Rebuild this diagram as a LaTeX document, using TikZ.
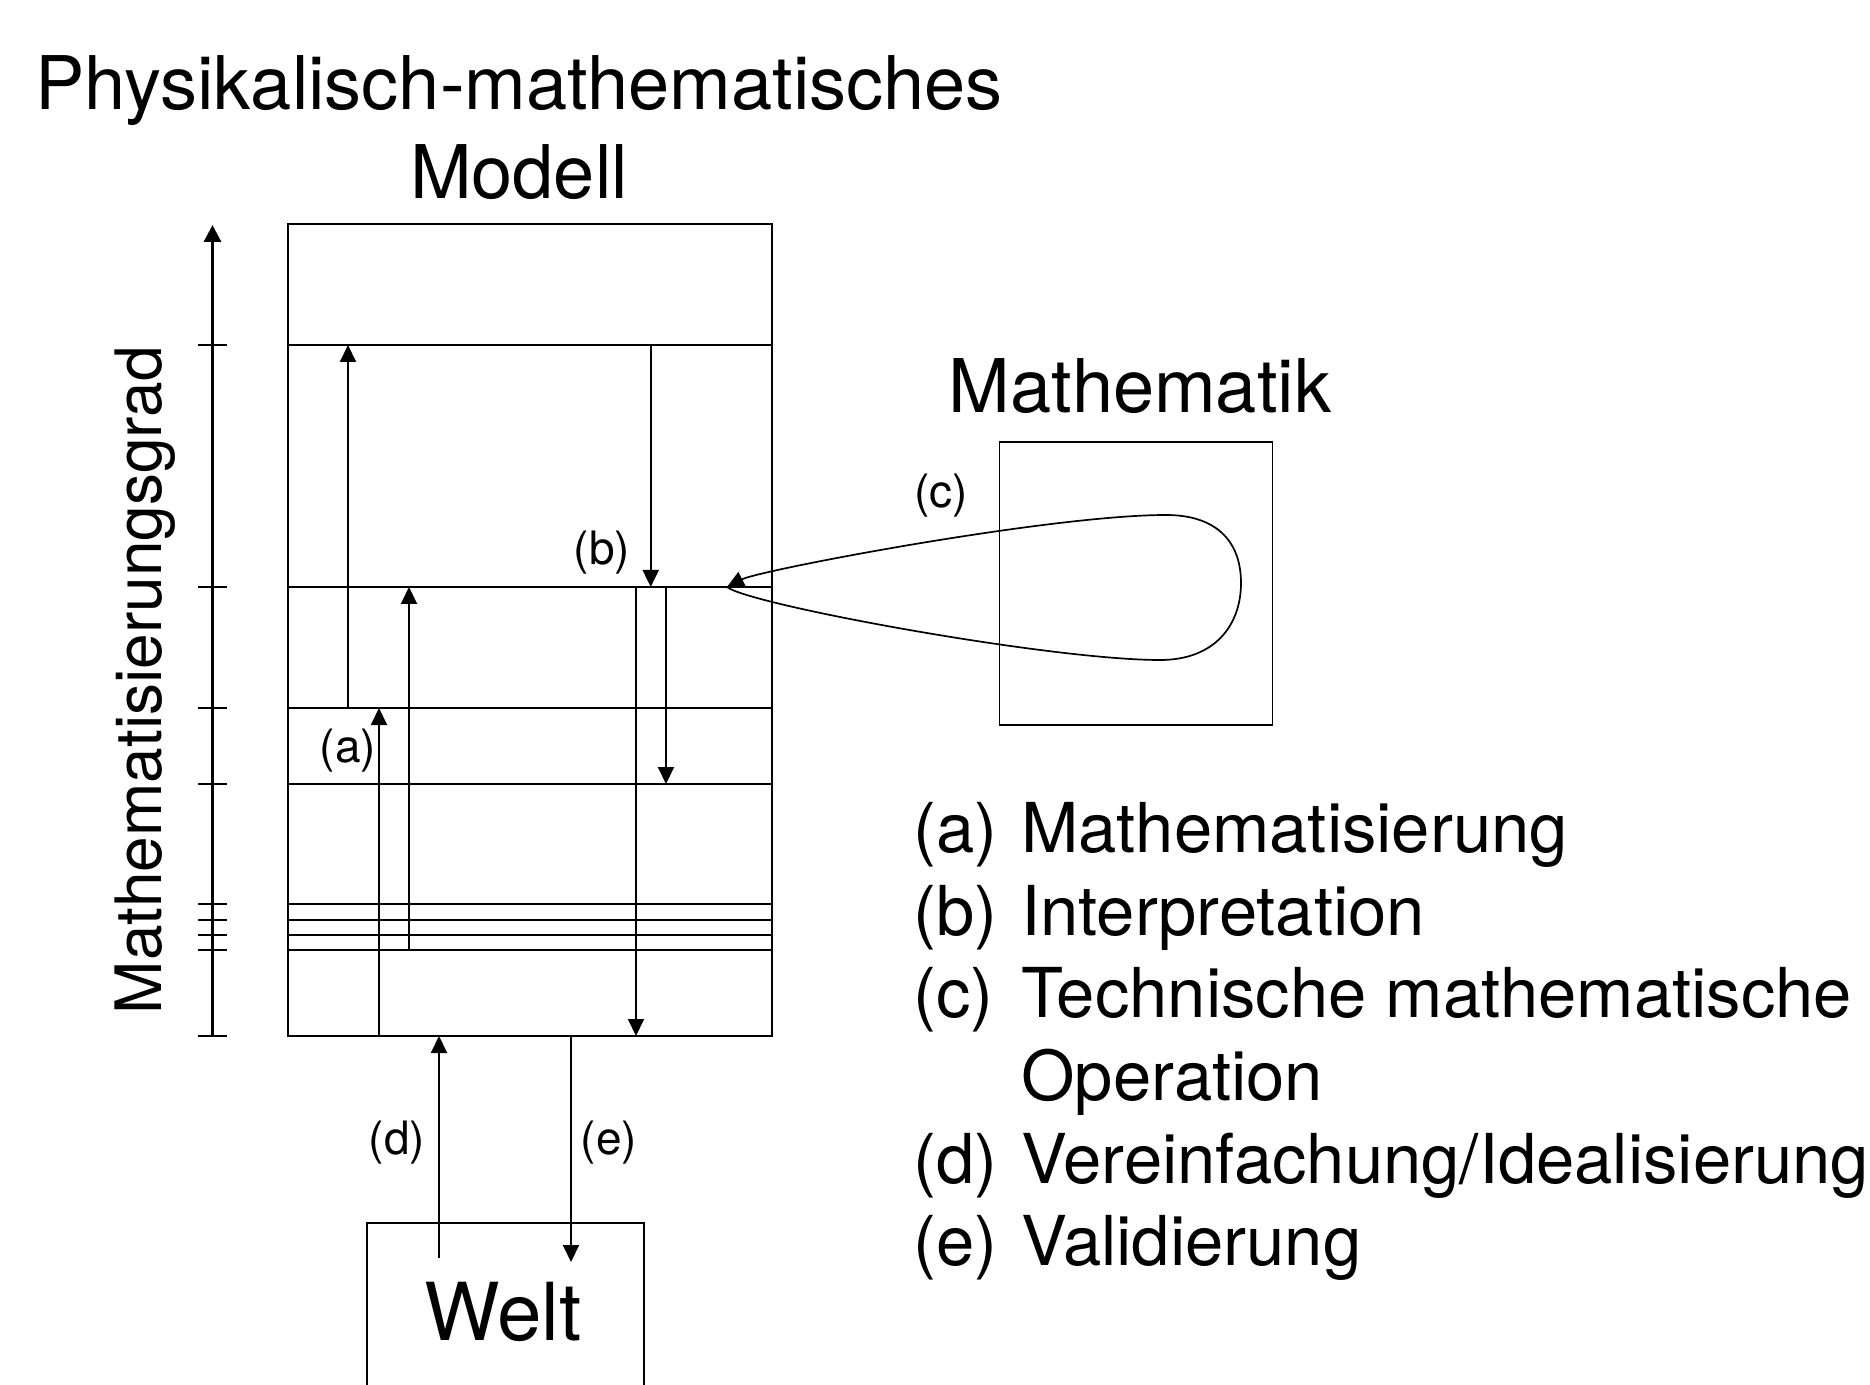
\documentclass[tikz,border=0pt]{standalone}
\usepackage{fontspec}
\setmainfont{TeX Gyre Heros}
\usetikzlibrary{arrows.meta,positioning}

\begin{document}
\begin{tikzpicture}[x=0.5pt, y=-0.5pt]
    \tikzstyle{box} = [rectangle, draw, line width=0.85pt, inner sep=0pt]
    \tikzstyle{level} = [line width=0.85pt]
    \tikzstyle{arrow} = [line width=1pt, -{Triangle[length=8.5pt, width=8pt]}]
    \tikzstyle{axtick} = [line width=1.4pt]
    \tikzstyle{big} = [font=\fontsize{37}{44}\selectfont, anchor=base, inner sep=0pt]
    \tikzstyle{lbl} = [font=\fontsize{23}{28}\selectfont, anchor=base, inner sep=0pt]
    \tikzstyle{legend} = [font=\fontsize{34.4}{41}\selectfont, anchor=base west, inner sep=0pt]

    \useasboundingbox (0,0) rectangle (1870,1385);

    % Titles
    \node [big] (title1) at (519,110) {Physikalisch-mathematisches};
    \node [big] (title2) at (519,199) {Modell};
    \node [big] (mathtitle) at (1140,413) {Mathematik};

    % Boxes
    \node [box, minimum width=242pt, minimum height=406pt] (modell) at (530,630) {};
    \node [box, minimum width=136.5pt, minimum height=141.5pt] (mathe) at (1136,583.5) {};
    \draw [level] (367,1385) |- (644,1223) -- (644,1385);
    \node [big, font=\fontsize{40}{48}\selectfont] (welt) at (503,1340) {Welt};

    % Levels and columns
    \coordinate (l1) at (288,345);
    \coordinate (l2) at (288,587);
    \coordinate (l3) at (288,708);
    \coordinate (l4) at (288,784);
    \coordinate (l8) at (288,950);
    \coordinate (l9) at (288,1036);
    \coordinate (ca) at (348,0);
    \coordinate (cb) at (379,0);
    \coordinate (cc) at (409,0);
    \coordinate (cd) at (636,0);
    \coordinate (ce) at (650.7,0);
    \coordinate (cf) at (666,0);
    \coordinate (cw1) at (439,0);
    \coordinate (cw2) at (571,0);

    \foreach \y in {345,587,708,784,904,920,935,950}
        \draw [level] (modell.west |- 0,\y) -- (modell.east |- 0,\y);

    % Axis
    \coordinate (axbot) at (212.5,1036);
    \coordinate (axtop) at (212.5,225);
    \draw [line width=1.5pt, -{Triangle[length=8.5pt, width=8.5pt]}] (axbot) -- (axtop);
    \foreach \y in {345,587,708,784,904,920,935,950,1036}
        \draw [axtick] (198,\y) -- (227,\y);
    \node [font=\fontsize{32}{38}\selectfont, rotate=90, anchor=base, inner sep=0pt] (grad) at (161.7,680) {Mathematisierungsgrad};

    % Arrows in the model
    \draw [arrow] (l3 -| ca) -- (l1 -| ca);
    \draw [arrow] (l9 -| cb) -- (l3 -| cb);
    \draw [arrow] (l8 -| cc) -- (l2 -| cc);
    \draw [arrow] (l1 -| ce) -- (l2 -| ce);
    \draw [arrow] (l2 -| cd) -- (l9 -| cd);
    \draw [arrow] (l2 -| cf) -- (l4 -| cf);

    % World
    \coordinate (wup) at (439,1258);
    \coordinate (wdown) at (571,1262);
    \draw [arrow] (wup) -- (l9 -| cw1);
    \draw [arrow] (l9 -| cw2) -- (wdown);

    % Loop into Mathematik
    \coordinate (tip) at (727,587);
    \draw [line width=0.85pt, -{Triangle[length=8.5pt, width=8pt]}] (tip)
        .. controls (750,605) and (1050,660) .. (1160,660)
        .. controls (1215,660) and (1241,625) .. (1241,583)
        .. controls (1241,540) and (1215,515) .. (1166,515)
        .. controls (1050,515) and (760,570) .. (tip);

    % Labels
    \node [lbl] (la) at (348,762) {(a)};
    \node [lbl] (lb) at (602,565) {(b)};
    \node [lbl] (lc) at (941,508) {(c)};
    \node [lbl] (ld) at (397,1154) {(d)};
    \node [lbl] (le) at (609,1154) {(e)};

    % Legend
    \foreach \y/\k/\t in {852/a/{Mathematisierung}, 935/b/{Interpretation}, 1017/c/{Technische mathematische}, 1183/d/{Vereinfachung/Idealisierung}, 1265/e/{Validierung}} {
        \node [legend] (k\k) at (913,\y) {(\k)};
        \node [legend] (t\k) at (1021,\y) {\t};
    }
    \node [legend] (tc2) at (1021,1100) {Operation};
\end{tikzpicture}
\end{document}
